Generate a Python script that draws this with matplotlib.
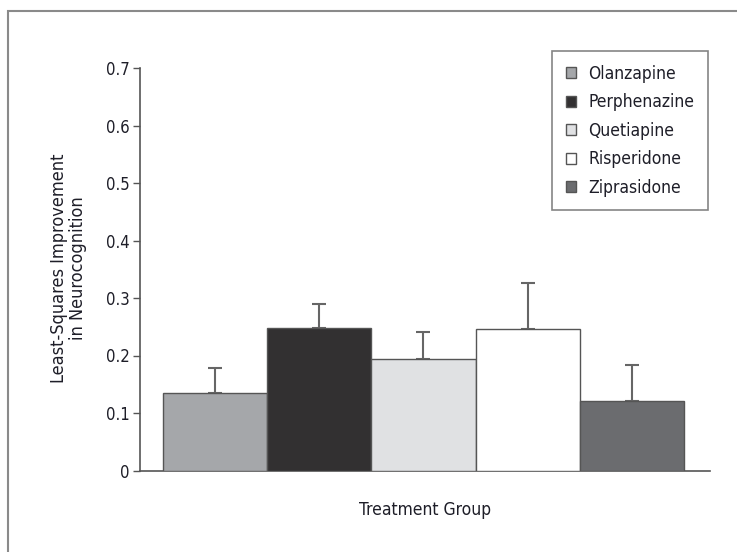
import matplotlib
matplotlib.use("Agg")
import matplotlib.pyplot as plt
from matplotlib.patches import Patch, Rectangle

plt.rcParams['font.family'] = ['DejaVu Sans']
plt.rcParams['font.stretch'] = 'condensed'

drugs = ["Olanzapine", "Perphenazine", "Quetiapine", "Risperidone", "Ziprasidone"]
values = [0.135, 0.248, 0.194, 0.246, 0.121]
err_upper = [0.043, 0.041, 0.047, 0.080, 0.062]
colors = ["#a5a7aa", "#323031", "#e0e1e3", "#ffffff", "#6b6c6f"]
yticks = [0, 0.1, 0.2, 0.3, 0.4, 0.5, 0.6, 0.7]
ytick_labels = ["0", "0.1", "0.2", "0.3", "0.4", "0.5", "0.6", "0.7"]

W, H = 737, 552
fig = plt.figure(figsize=(W / 100, H / 100), dpi=100)

# outer frame (extends beyond image right/bottom)
fig.patches.append(Rectangle((8 / W, -0.05), 1.2, 1 - 11 / H + 0.05,
                             transform=fig.transFigure, fill=False,
                             edgecolor="#8a8a8a", linewidth=1.5))

ax = fig.add_axes([139.5 / W, 81.5 / H, (710 - 139.5) / W, 402.5 / H])
x = list(range(len(drugs)))
ax.bar(x, values, width=1.0, color=colors, edgecolor="#555555", linewidth=1.0, zorder=3)
ax.errorbar(x, values, yerr=[[0] * len(values), err_upper], fmt="none",
            ecolor="#666666", elinewidth=1.5, capsize=5, capthick=1.5, zorder=2)

ax.set_xlim(-0.5 - 0.226, 4.5 + 0.25)
ax.set_ylim(0, 0.7)
ax.set_yticks(yticks)
ax.set_yticklabels(ytick_labels)
ax.set_xticks([])
for s in ["top", "right"]:
    ax.spines[s].set_visible(False)
for s in ["left", "bottom"]:
    ax.spines[s].set_color("#555555")
    ax.spines[s].set_linewidth(1.2)
ax.tick_params(axis="y", direction="out", length=5, width=1, color="#555555",
               labelsize=12, labelcolor="#1e1e28", pad=2)

fig.text(68.5 / W, 1 - 268 / H, "Least-Squares Improvement\nin Neurocognition",
         rotation=90, ha="center", va="center", fontsize=13, color="#1e1e28",
         linespacing=1.1, multialignment="center")
fig.text(425 / W, 1 - 510 / H, "Treatment Group", ha="center", va="center",
         fontsize=12.5, color="#1e1e28")

handles = [Patch(facecolor=c, edgecolor="#555555", linewidth=1.0) for c in colors]
leg = fig.legend(handles, drugs, loc="upper right",
                 bbox_to_anchor=(708 / W, 1 - 51 / H), bbox_transform=fig.transFigure,
                 borderaxespad=0, fancybox=False, frameon=True, fontsize=12.5,
                 handlelength=0.6, handleheight=0.6, handletextpad=0.7,
                 labelspacing=0.6, borderpad=0.8)
leg.get_frame().set_edgecolor("#666666")
leg.get_frame().set_linewidth(1.2)
for t in leg.get_texts():
    t.set_color("#1e1e28")

fig.savefig("out.png", dpi=100)
